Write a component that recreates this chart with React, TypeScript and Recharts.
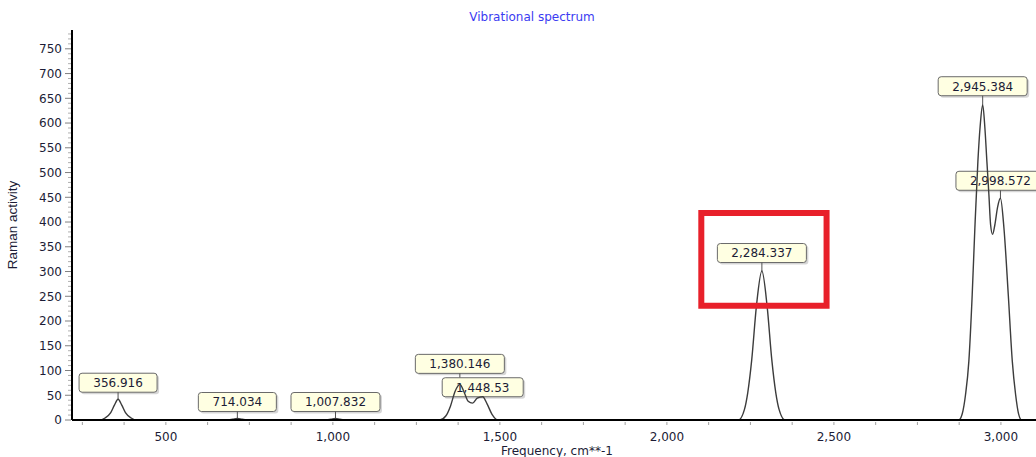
import React from 'react';
import { ComposedChart, Line, Scatter, XAxis, YAxis, ReferenceArea } from 'recharts';

// Raman spectrum trace (frequency in cm**-1, activity)
const freq = [
  219, 300, 318, 335, 346, 356.916, 368, 379, 396, 414,
  680, 700, 714.034, 728, 748,
  975, 994, 1007.832, 1021, 1041,
  1320, 1338, 1352, 1366, 1380.146, 1393, 1405, 1418, 1432, 1448.53, 1462, 1476, 1494,
  2214, 2232, 2242, 2254, 2268, 2284.337, 2300, 2314, 2326, 2336, 2354,
  2874, 2884, 2894, 2904, 2914, 2922, 2931, 2938, 2945.384, 2952, 2958, 2964, 2969, 2975,
  2982, 2990, 2998.572, 3009, 3022, 3034, 3044, 3053, 3062, 3105,
];
const activity = [
  0, 0, 4, 15, 30, 42, 30, 15, 4, 0,
  0, 1.5, 3, 1.5, 0,
  0, 1.5, 3, 1.5, 0,
  0, 8, 28, 58, 72, 56, 38, 34, 44, 47, 32, 12, 0,
  0, 21, 55, 122, 230, 301, 230, 122, 55, 21, 0,
  0, 12, 51, 119, 253, 388, 522, 595, 637, 590, 522, 455, 395, 375,
  395, 430, 448, 388, 253, 119, 51, 12, 0, 0,
];

// labelled peaks
const peakFreq = [356.916, 714.034, 1007.832, 1380.146, 1448.53, 2284.337, 2945.384, 2998.572];
const peakActivity = [42, 3, 3, 72, 47, 301, 637, 448];
// gap in px between a peak and the bottom of its callout
const calloutLift = [7, 7, 7, 11, 0, 8.5, 9, 8];

const xTicks = [
  250, 375, 500, 625, 750, 875, 1000, 1125, 1250, 1375, 1500, 1625, 1750, 1875,
  2000, 2125, 2250, 2375, 2500, 2625, 2750, 2875, 3000,
];
const yTicks = Array.from({ length: 79 }, (_, i) => i * 10);

// highlighted region around the 2,284 band
const highlight = { x1: 2103, x2: 2478, y1: 231, y2: 418 };

const curve = freq.map((f, i) => ({ freq: f, activity: activity[i] }));
const peaks = peakFreq.map((f, i) => ({ freq: f, activity: peakActivity[i], lift: calloutLift[i] }));

const FONT = "'DejaVu Sans', Verdana, sans-serif";
const TEXT = '#1c1c36';

const fmt = (v: number) => v.toLocaleString('en-US', { maximumFractionDigits: 3 });

function textWidth(s: string, size = 12) {
  let w = 0;
  for (const ch of s) w += /[0-9]/.test(ch) ? 0.636 : 0.318;
  return w * size;
}

function Callout(props: any) {
  const { cx, cy, payload } = props;
  if (cx == null || cy == null) return null;
  const label = fmt(payload.freq);
  const w = Math.round(textWidth(label) + 28);
  const h = 19;
  const bottom = cy - payload.lift;
  const left = cx - w / 2;
  return (
    <g>
      <rect x={left + 2} y={bottom - h + 2} width={w} height={h} rx={3} fill="rgba(0,0,0,0.16)" />
      <rect x={left} y={bottom - h} width={w} height={h} rx={3} fill="#ffffe2" stroke="#6a6a6a" strokeWidth={1} />
      {payload.lift > 0 && <line x1={cx} y1={bottom} x2={cx} y2={cy} stroke="#505050" strokeWidth={1} />}
      <text x={cx} y={bottom - h / 2} dy="0.36em" textAnchor="middle" fontFamily={FONT} fontSize={12} fill={TEXT}>
        {label}
      </text>
    </g>
  );
}

function XTick(props: any) {
  const { x, y, payload } = props;
  const v = payload.value as number;
  return (
    <g>
      <line x1={x} x2={x} y1={y + 2} y2={y + 5} stroke="#a0a0a0" />
      {v % 500 === 0 && (
        <text x={x} y={y + 21} textAnchor="middle" fontFamily={FONT} fontSize={12} fill={TEXT}>
          {fmt(v)}
        </text>
      )}
    </g>
  );
}

function YTick(props: any) {
  const { x, y, payload } = props;
  const v = payload.value as number;
  const major = v % 50 === 0;
  return (
    <g>
      <line x1={x - (major ? 7 : 4)} x2={x - 1} y1={y} y2={y} stroke={major ? '#808080' : '#b0b0b0'} />
      {major && (
        <text x={x - 10} y={y} dy="0.36em" textAnchor="end" fontFamily={FONT} fontSize={12} fill={TEXT}>
          {v}
        </text>
      )}
    </g>
  );
}

export default function App() {
  const scatterProps: any = { zIndex: 300 };
  const areaProps: any = { zIndex: 800 };
  return (
    <div style={{ position: 'absolute', left: 0, top: 0, width: 1036, height: 457, background: '#fff', overflow: 'hidden' }}>
      <ComposedChart width={1036} height={457} data={curve} margin={{ top: 30, right: 0, bottom: 7, left: 0 }}>
        <XAxis
          type="number"
          dataKey="freq"
          domain={[219, 3105]}
          ticks={xTicks}
          interval={0}
          tickSize={0}
          tickMargin={0}
          tickLine={false}
          tick={<XTick />}
          axisLine={{ stroke: '#000', strokeWidth: 2 }}
          height={30}
          allowDataOverflow
        />
        <YAxis
          type="number"
          domain={[0, 788]}
          ticks={yTicks}
          interval={0}
          tickSize={0}
          tickMargin={0}
          tickLine={false}
          tick={<YTick />}
          axisLine={{ stroke: '#000', strokeWidth: 2 }}
          width={72}
          allowDataOverflow
        />
        {/* callout boxes sit underneath the trace */}
        <Scatter
          data={peaks}
          dataKey="activity"
          shape={(p: any) => <Callout {...p} />}
          isAnimationActive={false}
          {...scatterProps}
        />
        <Line
          type="monotone"
          dataKey="activity"
          stroke="#3c3c3c"
          strokeWidth={1.4}
          dot={false}
          activeDot={false}
          isAnimationActive={false}
        />
        <ReferenceArea
          x1={highlight.x1}
          x2={highlight.x2}
          y1={highlight.y1}
          y2={highlight.y2}
          fill="none"
          fillOpacity={0}
          stroke="#e8202a"
          strokeWidth={6}
          strokeOpacity={1}
          ifOverflow="visible"
          {...areaProps}
        />
      </ComposedChart>
      <svg width={1036} height={457} style={{ position: 'absolute', left: 0, top: 0, pointerEvents: 'none' }}>
        <text x={532} y={21} textAnchor="middle" fontFamily={FONT} fontSize={12} fill="#3b3bf2">
          Vibrational spectrum
        </text>
        <text x={501} y={455} fontFamily={FONT} fontSize={12} fill={TEXT}>
          Frequency, cm**-1
        </text>
        <text
          transform="translate(17 225) rotate(-90)"
          textAnchor="middle"
          fontFamily="'Liberation Sans Narrow', 'Liberation Sans', Arial, sans-serif"
          fontSize={13.5}
          fill={TEXT}
        >
          Raman activity
        </text>
      </svg>
    </div>
  );
}
